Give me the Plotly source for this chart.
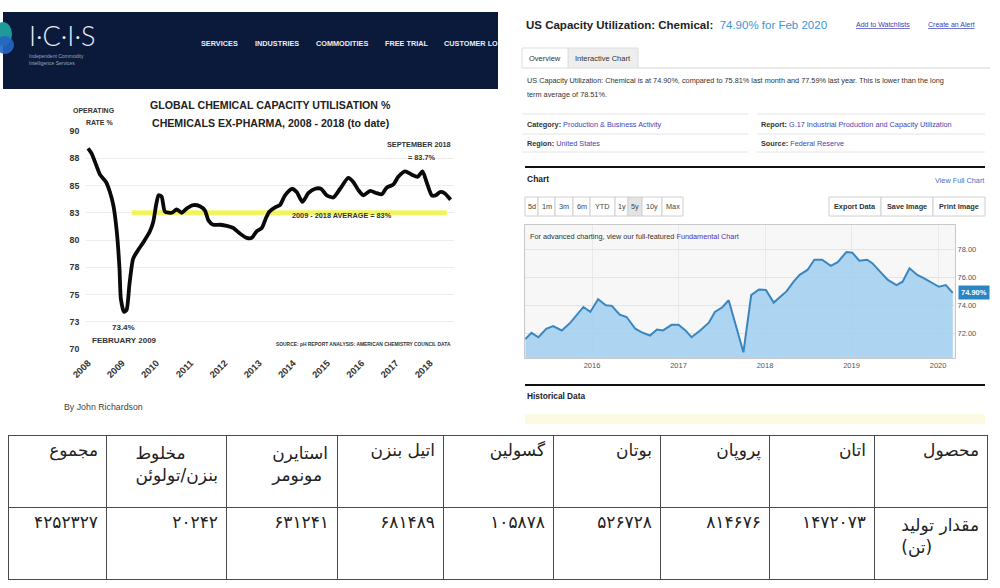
import plotly.graph_objects as go

W, H = 1000, 588


def X(px):
    return px / W


def Y(py):
    return 1 - py / H


# ---------------- data: ICIS global chemical capacity utilisation ----------------
icis_year = [2008.0, 2008.11, 2008.2, 2008.35, 2008.53, 2008.64, 2008.74, 2008.84, 2008.92, 2008.96,
             2009.05, 2009.13, 2009.21, 2009.32, 2009.47, 2009.62, 2009.81, 2009.91, 2009.99, 2010.06,
             2010.15, 2010.25, 2010.45, 2010.59, 2010.74, 2010.89, 2011.08, 2011.27, 2011.42, 2011.52,
             2011.66, 2011.86, 2012.06, 2012.25, 2012.44, 2012.64, 2012.79, 2012.93, 2013.08, 2013.2,
             2013.3, 2013.47, 2013.61, 2013.76, 2013.96, 2014.1, 2014.27, 2014.44, 2014.64, 2014.81,
             2014.98, 2015.17, 2015.37, 2015.61, 2015.76, 2015.9, 2016.05, 2016.25, 2016.44, 2016.59,
             2016.73, 2016.93, 2017.07, 2017.27, 2017.46, 2017.64, 2017.78, 2017.9, 2018.05, 2018.17,
             2018.29, 2018.42, 2018.6]
icis_rate = [88.4, 87.9, 87.2, 86.0, 85.3, 84.4, 83.2, 80.8, 77.4, 74.6,
             73.4, 73.6, 75.9, 78.3, 79.1, 79.8, 80.8, 81.7, 83.2, 84.1,
             84.0, 82.6, 82.5, 82.8, 82.5, 82.9, 83.2, 83.1, 82.7, 81.8,
             81.4, 81.4, 81.3, 81.1, 80.6, 80.2, 80.2, 80.8, 81.1, 82.0,
             82.6, 83.0, 83.2, 84.1, 84.7, 84.4, 83.5, 84.3, 84.7, 84.7,
             84.1, 83.9, 84.7, 85.7, 85.3, 84.6, 84.1, 84.5, 84.3, 84.2,
             84.8, 85.1, 85.8, 86.3, 86.0, 85.8, 86.3, 85.3, 84.1, 84.1,
             84.4, 84.3, 83.7]
icis_avg_span = [2009.28, 2018.49]
icis_avg_level = 82.5
icis_ytickvals = [70, 72.5, 75, 77.5, 80, 82.5, 85, 87.5, 90]
icis_yticktext = ["70", "73", "75", "78", "80", "83", "85", "88", "90"]
icis_xticks = list(range(2008, 2019))

# ---------------- data: US capacity utilization, chemical ----------------
us_year = [2015.23, 2015.30, 2015.38, 2015.47, 2015.55, 2015.65, 2015.75, 2015.82, 2015.90, 2015.98,
           2016.07, 2016.16, 2016.23, 2016.32, 2016.40, 2016.50, 2016.57, 2016.67, 2016.75, 2016.82, 2016.92,
           2017.00, 2017.08, 2017.15, 2017.25, 2017.35, 2017.42, 2017.51, 2017.58, 2017.75, 2017.84, 2017.93,
           2018.01, 2018.10, 2018.18, 2018.25, 2018.33, 2018.40, 2018.49, 2018.57, 2018.66, 2018.76, 2018.84, 2018.94,
           2019.01, 2019.09, 2019.18, 2019.24, 2019.33, 2019.42, 2019.52, 2019.59, 2019.67, 2019.76, 2019.84, 2019.92,
           2020.01, 2020.09, 2020.17]
us_util = [71.64, 72.07, 71.76, 72.36, 72.55, 72.24, 72.79, 73.31, 73.90, 73.55,
           74.45, 74.02, 73.98, 73.36, 73.19, 72.36, 72.12, 71.88, 72.31, 72.24, 72.64,
           72.64, 72.24, 71.76, 72.24, 72.79, 73.55, 73.90, 74.38, 70.69, 74.74, 75.14,
           75.10, 74.21, 74.62, 75.02, 75.69, 76.17, 76.52, 77.24, 77.24, 76.81, 77.07, 77.79,
           77.74, 77.17, 77.24, 77.00, 76.40, 75.81, 75.45, 75.69, 76.64, 76.17, 75.93, 75.62,
           75.33, 75.45, 74.90]
us_yticks = [72, 74, 76, 78]
us_xticks = [2016, 2017, 2018, 2019, 2020]

# ---------------- data: production table (Persian, right-to-left order) ----------------
row_header = "محصول"
row_label = "مقدار تولید<br>(تن)"
products = ["اتان", "پروپان", "بوتان", "گسولین", "اتیل بنزن", "استایرن<br>مونومر", "مخلوط<br>بنزن/تولوئن"]
production_tons = [1472073, 814676, 526728, 105878, 681489, 631241, 20242]
total_label = "مجموع"

FA_DIGITS = str.maketrans("0123456789", "۰۱۲۳۴۵۶۷۸۹")


def fa(n):
    return str(n).translate(FA_DIGITS)


NARROW = "Liberation Sans Narrow, Liberation Sans, Arial"
ARIAL = "Liberation Sans, Arial"
FA_FONT = "DejaVu Sans"

fig = go.Figure()

# ICIS chart traces
fig.add_trace(go.Scatter(x=icis_avg_span, y=[icis_avg_level] * 2, mode="lines",
                         line=dict(color="rgba(240,243,70,0.85)", width=5),
                         xaxis="x", yaxis="y", hoverinfo="skip", showlegend=False))
fig.add_trace(go.Scatter(x=icis_year, y=icis_rate, mode="lines",
                         line=dict(color="#0a0a0a", width=3.8, shape="spline", smoothing=0.6),
                         xaxis="x", yaxis="y", showlegend=False))

# US chart trace
fig.add_trace(go.Scatter(x=us_year, y=us_util, mode="lines", fill="tozeroy",
                         fillcolor="rgba(160,206,240,0.85)",
                         line=dict(color="#3a86bf", width=2),
                         xaxis="x2", yaxis="y2", showlegend=False))

# Table (columns laid out left-to-right, i.e. reversed reading order)
headers_rtl = [row_header] + products + [total_label]
cells_rtl = [row_label] + [fa(v) for v in production_tons] + [fa(sum(production_tons))]
col_w_rtl = [113, 105, 109, 107, 110, 106, 111, 120, 98]
fig.add_trace(go.Table(
    domain=dict(x=[X(8), X(987)], y=[0, Y(435)]),
    columnwidth=col_w_rtl[::-1],
    header=dict(values=headers_rtl[::-1], align="right", height=72,
                font=dict(family=FA_FONT, size=17, color="#222"),
                fill_color="white", line=dict(color="#4a4a4a", width=1)),
    cells=dict(values=[[c] for c in cells_rtl[::-1]], align="right", height=72,
               font=dict(family=FA_FONT, size=17, color="#222"),
               fill_color="white", line=dict(color="#4a4a4a", width=1)),
))

shapes = []
ann = []


def rect(x0, y0, x1, y1, fill="rgba(0,0,0,0)", line="rgba(0,0,0,0)", lw=1, layer="above"):
    shapes.append(dict(type="rect", xref="paper", yref="paper", x0=X(x0), x1=X(x1), y0=Y(y1), y1=Y(y0),
                       fillcolor=fill, line=dict(color=line, width=lw), layer=layer))


def hline(x0, x1, y, color, lw=1):
    shapes.append(dict(type="line", xref="paper", yref="paper", x0=X(x0), x1=X(x1), y0=Y(y), y1=Y(y),
                       line=dict(color=color, width=lw)))


def txt(x, y, s, size, color="#222", family=ARIAL, bold=False, xanchor="left", yanchor="middle", **kw):
    ann.append(dict(x=X(x), y=Y(y), xref="paper", yref="paper", text=s, showarrow=False,
                    font=dict(size=size, color=color, family=family, weight="bold" if bold else "normal"),
                    xanchor=xanchor, yanchor=yanchor, borderpad=0, **kw))


# ---------- left: ICIS page ----------
rect(3, 12, 498, 89, fill="#0b1a3b")
shapes.append(dict(type="circle", xref="paper", yref="paper", x0=X(-6), x1=X(12), y0=Y(46), y1=Y(22),
                   fillcolor="#1f9a9a", line=dict(width=0)))
shapes.append(dict(type="circle", xref="paper", yref="paper", x0=X(-4), x1=X(14), y0=Y(54), y1=Y(36),
                   fillcolor="#2466c4", line=dict(width=0), opacity=0.9))
ann.append(dict(x=X(27), y=Y(36), xref="paper", yref="paper", text="I·C·I·S", showarrow=False,
                font=dict(size=27, color="#e8eef8", family="Lato, Open Sans", weight=300),
                xanchor="left", yanchor="middle"))
txt(28, 56, "Independent Commodity", 5, color="#9aa6bd")
txt(28, 62.5, "Intelligence Services", 5, color="#9aa6bd")
for label, cx in [("SERVICES", 219), ("INDUSTRIES", 277), ("COMMODITIES", 342), ("FREE TRIAL", 407)]:
    txt(cx, 43, label, 7.3, color="#e9edf5", family=NARROW, bold=True, xanchor="center")
txt(443, 43, "CUSTOMER LO", 7.3, color="#e9edf5", family=NARROW, bold=True)

txt(270, 105, "GLOBAL CHEMICAL CAPACITY UTILISATION %", 10.6, color="#222", family=NARROW, bold=True, xanchor="center")
txt(270, 123, "CHEMICALS EX-PHARMA, 2008 - 2018 (to date)", 10.6, color="#222", family=NARROW, bold=True, xanchor="center")
txt(94, 111, "OPERATING", 7, color="#333", family=NARROW, bold=True, xanchor="center")
txt(99, 123, "RATE %", 7, color="#333", family=NARROW, bold=True, xanchor="center")
txt(123, 327, "73.4%", 8, color="#333", family=NARROW, bold=True, xanchor="center")
txt(124, 340, "FEBRUARY 2009", 8, color="#333", family=NARROW, bold=True, xanchor="center")
txt(419, 144, "SEPTEMBER 2018", 7.3, color="#333", family=NARROW, bold=True, xanchor="center")
txt(421, 157, "= 83.7%", 7.3, color="#333", family=NARROW, bold=True, xanchor="center")
txt(342, 215.5, "2009 - 2018 AVERAGE = 83%", 7.3, color="#333", family=NARROW, bold=True, xanchor="center")
txt(452, 344, "SOURCE: pH REPORT ANALYSIS: AMERICAN CHEMISTRY COUNCIL DATA", 4.9, color="#333",
    family=NARROW, bold=True, xanchor="right")
txt(63, 407, "By John Richardson", 8.8, color="#444")

# ---------- right: US capacity page ----------
txt(525, 25, "<b>US Capacity Utilization: Chemical:</b>  <span style='color:#3b96d6'>74.90% for Feb 2020</span>",
    11.5, color="#222")
txt(855, 24, "<u>Add to Watchlists</u>", 7, color="#3d3db8")
txt(927, 24, "<u>Create an Alert</u>", 7, color="#3d3db8")

rect(568, 48, 638, 68, fill="#eeeeee", line="#dddddd")
rect(522, 48, 568, 68, fill="white", line="#dddddd")
hline(638, 990, 68, "#d5d5d5")
txt(545, 58, "Overview", 7.5, color="#333", xanchor="center")
txt(603, 58, "Interactive Chart", 7.5, color="#333", xanchor="center")

txt(526, 80, "US Capacity Utilization: Chemical is at 74.90%, compared to 75.81% last month and 77.59% last year. "
             "This is lower than the long", 7.3, color="#333")
txt(526, 94, "term average of 78.51%.", 7.3, color="#333")
for yy in (114, 134, 152):
    hline(522, 748, yy, "#e4e4e4")
    hline(757, 985, yy, "#e4e4e4")
LINK = "#4a3fb5"
txt(526, 124, f"<b>Category:</b> <span style='color:{LINK}'>Production &amp; Business Activity</span>", 7.3, color="#333")
txt(760, 124, f"<b>Report:</b> <span style='color:{LINK}'>G.17 Industrial Production and Capacity Utilization</span>",
    7.3, color="#333")
txt(526, 143, f"<b>Region:</b> <span style='color:{LINK}'>United States</span>", 7.3, color="#333")
txt(760, 143, f"<b>Source:</b> <span style='color:{LINK}'>Federal Reserve</span>", 7.3, color="#333")

hline(525, 985, 167, "#111", lw=2)
txt(526, 179, "Chart", 8.5, color="#222", bold=True)
txt(985, 180, "View Full Chart", 7.3, color="#4a6fc0", xanchor="right")

btn_edges = [525, 538, 555, 573, 590, 615, 628, 642, 662, 683]
btn_labels = ["5d", "1m", "3m", "6m", "YTD", "1y", "5y", "10y", "Max"]
for i, lab in enumerate(btn_labels):
    x0, x1 = btn_edges[i], btn_edges[i + 1]
    rect(x0, 197, x1, 216, fill="#e4e4e4" if lab == "5y" else "white", line="#d0d0d0")
    txt((x0 + x1) / 2, 206.5, lab, 7.3, color="#444", xanchor="center")
for lab, x0, x1 in [("Export Data", 829, 881), ("Save Image", 881, 933), ("Print Image", 933, 985)]:
    rect(x0, 197, x1, 216, fill="white", line="#d0d0d0")
    txt((x0 + x1) / 2, 206.5, lab, 7.3, color="#333", bold=True, xanchor="center")

shapes.append(dict(type="rect", xref="x2 domain", yref="y2 domain", x0=0, x1=1, y0=0, y1=1,
                   fillcolor="#f7f7f7", line=dict(width=0), layer="below"))
txt(529, 236, "For advanced charting, view our full-featured <span style='color:#4b32b4'>Fundamental Chart</span>",
    7.3, color="#333")
ann.append(dict(x=us_year[-1], y=us_util[-1], xref="x2", yref="y2", text=f"<b>{us_util[-1]:.2f}%</b>",
                showarrow=False, xanchor="left", yanchor="middle", xshift=5,
                font=dict(size=7.5, color="white", family=ARIAL), bgcolor="#2a85c6", borderpad=2))

hline(525, 985, 385, "#111", lw=2)
txt(526, 396, "Historical Data", 8.3, color="#222", bold=True)
rect(525, 414, 985, 424, fill="#fdfae4")

fig.update_layout(
    width=W, height=H, margin=dict(l=0, r=0, t=0, b=0, pad=0), autosize=False,
    paper_bgcolor="white", plot_bgcolor="white",
    showlegend=False,
    shapes=shapes, annotations=ann,
    xaxis=dict(domain=[X(86.3), X(454)], range=[2007.95, 2018.7], anchor="y", automargin=False,
               tickvals=icis_xticks, tickangle=-45, showgrid=False, zeroline=False, showline=False,
               ticklabelstandoff=6,
               tickfont=dict(size=9.3, color="#333", family=NARROW, weight="bold"), ticks=""),
    yaxis=dict(domain=[Y(349), Y(131)], range=[70, 90], anchor="x", automargin=False,
               tickvals=icis_ytickvals, ticktext=icis_yticktext, showgrid=True, gridcolor="#ececec",
               zeroline=False, showline=False, ticks="", ticklabelstandoff=6,
               tickfont=dict(size=8.8, color="#333", family=NARROW, weight="bold")),
    xaxis2=dict(domain=[X(525), X(955)], range=[2015.225, 2020.196], anchor="y2", automargin=False,
                tickvals=us_xticks, showgrid=True, gridcolor="#e9e9e9", zeroline=False,
                showline=True, linecolor="#c8c8c8", mirror=True, ticks="",
                tickfont=dict(size=7.5, color="#555", family=ARIAL)),
    yaxis2=dict(domain=[Y(358), Y(225)], range=[70.29, 79.7], anchor="x2", side="right", automargin=False,
                tickvals=us_yticks, tickformat=".2f", ticksuffix="%", showgrid=True, gridcolor="#e4e4e4",
                zeroline=False, showline=True, linecolor="#c8c8c8", mirror=True, ticks="",
                tickfont=dict(size=7.5, color="#555", family=ARIAL)),
)

fig.write_html("out.html", config={"displayModeBar": False},
               post_script="document.body.style.margin='0';document.body.style.overflow='hidden';")
